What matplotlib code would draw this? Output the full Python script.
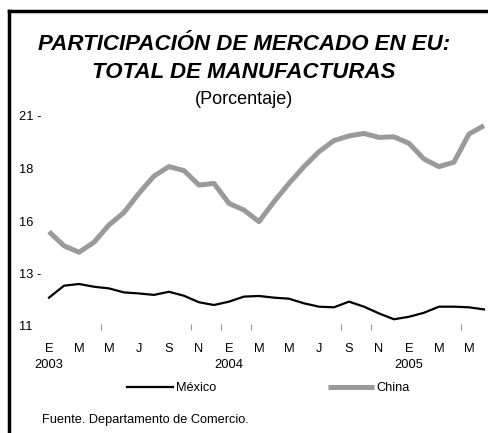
import matplotlib.pyplot as plt
from matplotlib.lines import Line2D

plt.rcParams['font.family'] = ['Liberation Sans', 'DejaVu Sans']

# ## Data (monthly, Jan 2003 - Jun 2005)
mexico = [11.85, 12.42, 12.50, 12.37, 12.29, 12.10, 12.05, 11.98, 12.13, 11.94,
          11.63, 11.50, 11.66, 11.90, 11.93, 11.85, 11.80, 11.58, 11.42, 11.39,
          11.66, 11.42, 11.10, 10.82, 10.94, 11.13, 11.42, 11.42, 11.39, 11.29]
china = [14.99, 14.32, 14.01, 14.49, 15.31, 15.91, 16.82, 17.64, 18.09, 17.90,
         17.21, 17.29, 16.34, 16.02, 15.47, 16.42, 17.29, 18.09, 18.80, 19.33,
         19.55, 19.67, 19.48, 19.51, 19.20, 18.45, 18.09, 18.30, 19.64, 20.04]
months = list(range(len(china)))

xlabels = ['E\n2003', 'M', 'M', 'J', 'S', 'N', 'E\n2004', 'M', 'M', 'J', 'S', 'N',
           'E\n2005', 'M', 'M']
ytick_vals = [10.5, 13, 15.5, 18, 20.5]
ytick_labels = ['11', '13 -', '16', '18', '21 -']
stray_ticks = [3.5, 9.5, 11.5, 13.5, 19.5, 21.5, 27.5]

fig = plt.figure(figsize=(4.88, 4.33), dpi=100)
ax = fig.add_axes([40 / 488, 1 - 330.2 / 433, 448 / 488, 218.4 / 433])

ax.plot(months, mexico, color='black', lw=1.6, label='México')
ax.plot(months, china, color='#9a9a9a', lw=3.6, label='China',
        solid_capstyle='butt')

ax.set_xlim(-0.6, 29.27)
ax.set_ylim(10.3, 20.7)
for s in ax.spines.values():
    s.set_visible(False)

ax.set_xticks(range(0, 30, 2))
ax.set_xticklabels(xlabels, fontsize=9.3, linespacing=1.45, va='top')
ax.set_xticks(stray_ticks, minor=True)
ax.tick_params(axis='x', which='major', length=0, pad=9)
ax.tick_params(axis='x', which='minor', direction='in', length=4, width=0.8,
               color='#999999')

ax.set_yticks(ytick_vals)
ax.set_yticklabels(ytick_labels, fontsize=9.3, ha='left')
ax.tick_params(axis='y', length=0, pad=15)

# ## Titles
fig.text(0.5, 1 - 45 / 433, 'PARTICIPACIÓN DE MERCADO EN EU:', ha='center',
         va='center', fontsize=16, fontweight='bold', fontstyle='italic')
fig.text(0.5, 1 - 72 / 433, 'TOTAL DE MANUFACTURAS', ha='center',
         va='center', fontsize=16, fontweight='bold', fontstyle='italic')
fig.text(0.5, 1 - 100 / 433, '(Porcentaje)', ha='center', va='center',
         fontsize=13)

fig.legend(loc='center left', bbox_to_anchor=(127 / 488, 1 - 388 / 433),
           bbox_transform=fig.transFigure, ncol=2, frameon=False,
           fontsize=9.2, handlelength=3.6, handletextpad=0.2,
           columnspacing=8.8, borderpad=0, borderaxespad=0)

fig.text(42 / 488, 1 - 420 / 433, 'Fuente. Departamento de Comercio.',
         fontsize=9.2, va='center')

# ## Frame
fig.add_artist(Line2D([9 / 488, 9 / 488], [0, 1 - 11 / 433], color='black',
                      lw=2.5, transform=fig.transFigure))
fig.add_artist(Line2D([9 / 488, 1], [1 - 11 / 433, 1 - 11 / 433],
                      color='black', lw=2.5, transform=fig.transFigure))

plt.savefig('out.png', dpi=100)
plt.close()
